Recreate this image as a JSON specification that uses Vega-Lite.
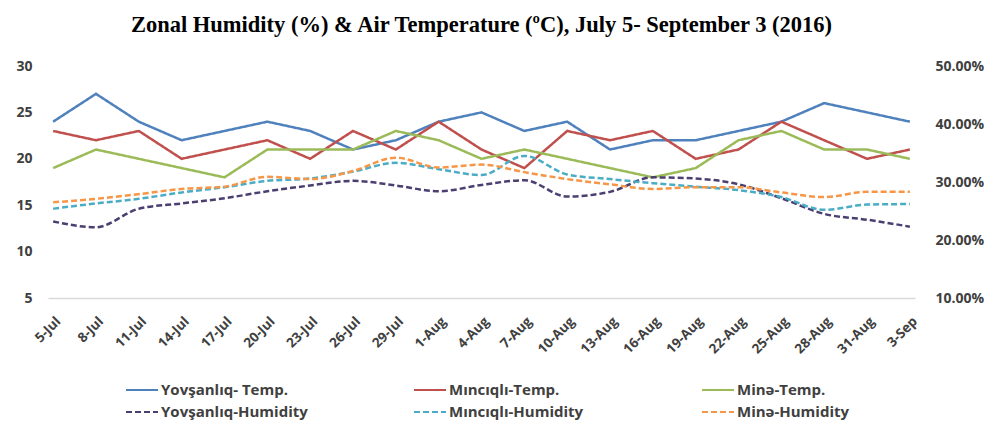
{
  "$schema": "https://vega.github.io/schema/vega-lite/v6.json",
  "autosize": {"type": "none"},
  "width": 867,
  "height": 232,
  "padding": {"left": 48, "top": 66, "right": 80, "bottom": 133},
  "background": "white",
  "title": {
    "text": "Zonal Humidity (%) & Air Temperature (ºC), July 5- September 3 (2016)",
    "font": "Liberation Serif",
    "fontSize": 22.5,
    "fontWeight": "bold",
    "color": "#000000",
    "anchor": "middle",
    "offset": 23
  },
  "config": {
    "view": {"stroke": null},
    "axis": {"labelFont": "Open Sans", "labelFontWeight": "bold", "labelColor": "#404040", "labelFontSize": 14, "ticks": false, "grid": false, "title": null}
  },
  "datasets": {
    "temp": [
      {"date": "5-Jul", "series": "Yovşanlıq- Temp.", "value": 24},
      {"date": "8-Jul", "series": "Yovşanlıq- Temp.", "value": 27},
      {"date": "11-Jul", "series": "Yovşanlıq- Temp.", "value": 24},
      {"date": "14-Jul", "series": "Yovşanlıq- Temp.", "value": 22},
      {"date": "17-Jul", "series": "Yovşanlıq- Temp.", "value": 23},
      {"date": "20-Jul", "series": "Yovşanlıq- Temp.", "value": 24},
      {"date": "23-Jul", "series": "Yovşanlıq- Temp.", "value": 23},
      {"date": "26-Jul", "series": "Yovşanlıq- Temp.", "value": 21},
      {"date": "29-Jul", "series": "Yovşanlıq- Temp.", "value": 22},
      {"date": "1-Aug", "series": "Yovşanlıq- Temp.", "value": 24},
      {"date": "4-Aug", "series": "Yovşanlıq- Temp.", "value": 25},
      {"date": "7-Aug", "series": "Yovşanlıq- Temp.", "value": 23},
      {"date": "10-Aug", "series": "Yovşanlıq- Temp.", "value": 24},
      {"date": "13-Aug", "series": "Yovşanlıq- Temp.", "value": 21},
      {"date": "16-Aug", "series": "Yovşanlıq- Temp.", "value": 22},
      {"date": "19-Aug", "series": "Yovşanlıq- Temp.", "value": 22},
      {"date": "22-Aug", "series": "Yovşanlıq- Temp.", "value": 23},
      {"date": "25-Aug", "series": "Yovşanlıq- Temp.", "value": 24},
      {"date": "28-Aug", "series": "Yovşanlıq- Temp.", "value": 26},
      {"date": "31-Aug", "series": "Yovşanlıq- Temp.", "value": 25},
      {"date": "3-Sep", "series": "Yovşanlıq- Temp.", "value": 24},
      {"date": "5-Jul", "series": "Mıncıqlı-Temp.", "value": 23},
      {"date": "8-Jul", "series": "Mıncıqlı-Temp.", "value": 22},
      {"date": "11-Jul", "series": "Mıncıqlı-Temp.", "value": 23},
      {"date": "14-Jul", "series": "Mıncıqlı-Temp.", "value": 20},
      {"date": "17-Jul", "series": "Mıncıqlı-Temp.", "value": 21},
      {"date": "20-Jul", "series": "Mıncıqlı-Temp.", "value": 22},
      {"date": "23-Jul", "series": "Mıncıqlı-Temp.", "value": 20},
      {"date": "26-Jul", "series": "Mıncıqlı-Temp.", "value": 23},
      {"date": "29-Jul", "series": "Mıncıqlı-Temp.", "value": 21},
      {"date": "1-Aug", "series": "Mıncıqlı-Temp.", "value": 24},
      {"date": "4-Aug", "series": "Mıncıqlı-Temp.", "value": 21},
      {"date": "7-Aug", "series": "Mıncıqlı-Temp.", "value": 19},
      {"date": "10-Aug", "series": "Mıncıqlı-Temp.", "value": 23},
      {"date": "13-Aug", "series": "Mıncıqlı-Temp.", "value": 22},
      {"date": "16-Aug", "series": "Mıncıqlı-Temp.", "value": 23},
      {"date": "19-Aug", "series": "Mıncıqlı-Temp.", "value": 20},
      {"date": "22-Aug", "series": "Mıncıqlı-Temp.", "value": 21},
      {"date": "25-Aug", "series": "Mıncıqlı-Temp.", "value": 24},
      {"date": "28-Aug", "series": "Mıncıqlı-Temp.", "value": 22},
      {"date": "31-Aug", "series": "Mıncıqlı-Temp.", "value": 20},
      {"date": "3-Sep", "series": "Mıncıqlı-Temp.", "value": 21},
      {"date": "5-Jul", "series": "Minə-Temp.", "value": 19},
      {"date": "8-Jul", "series": "Minə-Temp.", "value": 21},
      {"date": "11-Jul", "series": "Minə-Temp.", "value": 20},
      {"date": "14-Jul", "series": "Minə-Temp.", "value": 19},
      {"date": "17-Jul", "series": "Minə-Temp.", "value": 18},
      {"date": "20-Jul", "series": "Minə-Temp.", "value": 21},
      {"date": "23-Jul", "series": "Minə-Temp.", "value": 21},
      {"date": "26-Jul", "series": "Minə-Temp.", "value": 21},
      {"date": "29-Jul", "series": "Minə-Temp.", "value": 23},
      {"date": "1-Aug", "series": "Minə-Temp.", "value": 22},
      {"date": "4-Aug", "series": "Minə-Temp.", "value": 20},
      {"date": "7-Aug", "series": "Minə-Temp.", "value": 21},
      {"date": "10-Aug", "series": "Minə-Temp.", "value": 20},
      {"date": "13-Aug", "series": "Minə-Temp.", "value": 19},
      {"date": "16-Aug", "series": "Minə-Temp.", "value": 18},
      {"date": "19-Aug", "series": "Minə-Temp.", "value": 19},
      {"date": "22-Aug", "series": "Minə-Temp.", "value": 22},
      {"date": "25-Aug", "series": "Minə-Temp.", "value": 23},
      {"date": "28-Aug", "series": "Minə-Temp.", "value": 21},
      {"date": "31-Aug", "series": "Minə-Temp.", "value": 21},
      {"date": "3-Sep", "series": "Minə-Temp.", "value": 20}
    ],
    "hum": [
      {"date": "5-Jul", "series": "Yovşanlıq-Humidity", "value": 0.232},
      {"date": "8-Jul", "series": "Yovşanlıq-Humidity", "value": 0.222},
      {"date": "11-Jul", "series": "Yovşanlıq-Humidity", "value": 0.254},
      {"date": "14-Jul", "series": "Yovşanlıq-Humidity", "value": 0.263},
      {"date": "17-Jul", "series": "Yovşanlıq-Humidity", "value": 0.272},
      {"date": "20-Jul", "series": "Yovşanlıq-Humidity", "value": 0.284},
      {"date": "23-Jul", "series": "Yovşanlıq-Humidity", "value": 0.294},
      {"date": "26-Jul", "series": "Yovşanlıq-Humidity", "value": 0.302},
      {"date": "29-Jul", "series": "Yovşanlıq-Humidity", "value": 0.294},
      {"date": "1-Aug", "series": "Yovşanlıq-Humidity", "value": 0.284},
      {"date": "4-Aug", "series": "Yovşanlıq-Humidity", "value": 0.295},
      {"date": "7-Aug", "series": "Yovşanlıq-Humidity", "value": 0.303},
      {"date": "10-Aug", "series": "Yovşanlıq-Humidity", "value": 0.275},
      {"date": "13-Aug", "series": "Yovşanlıq-Humidity", "value": 0.283},
      {"date": "16-Aug", "series": "Yovşanlıq-Humidity", "value": 0.308},
      {"date": "19-Aug", "series": "Yovşanlıq-Humidity", "value": 0.306},
      {"date": "22-Aug", "series": "Yovşanlıq-Humidity", "value": 0.296},
      {"date": "25-Aug", "series": "Yovşanlıq-Humidity", "value": 0.272},
      {"date": "28-Aug", "series": "Yovşanlıq-Humidity", "value": 0.245},
      {"date": "31-Aug", "series": "Yovşanlıq-Humidity", "value": 0.235},
      {"date": "3-Sep", "series": "Yovşanlıq-Humidity", "value": 0.223},
      {"date": "5-Jul", "series": "Mıncıqlı-Humidity", "value": 0.254},
      {"date": "8-Jul", "series": "Mıncıqlı-Humidity", "value": 0.263},
      {"date": "11-Jul", "series": "Mıncıqlı-Humidity", "value": 0.271},
      {"date": "14-Jul", "series": "Mıncıqlı-Humidity", "value": 0.282},
      {"date": "17-Jul", "series": "Mıncıqlı-Humidity", "value": 0.291},
      {"date": "20-Jul", "series": "Mıncıqlı-Humidity", "value": 0.302},
      {"date": "23-Jul", "series": "Mıncıqlı-Humidity", "value": 0.306},
      {"date": "26-Jul", "series": "Mıncıqlı-Humidity", "value": 0.318},
      {"date": "29-Jul", "series": "Mıncıqlı-Humidity", "value": 0.333},
      {"date": "1-Aug", "series": "Mıncıqlı-Humidity", "value": 0.322},
      {"date": "4-Aug", "series": "Mıncıqlı-Humidity", "value": 0.312},
      {"date": "7-Aug", "series": "Mıncıqlı-Humidity", "value": 0.345},
      {"date": "10-Aug", "series": "Mıncıqlı-Humidity", "value": 0.313},
      {"date": "13-Aug", "series": "Mıncıqlı-Humidity", "value": 0.305},
      {"date": "16-Aug", "series": "Mıncıqlı-Humidity", "value": 0.298},
      {"date": "19-Aug", "series": "Mıncıqlı-Humidity", "value": 0.292},
      {"date": "22-Aug", "series": "Mıncıqlı-Humidity", "value": 0.286},
      {"date": "25-Aug", "series": "Mıncıqlı-Humidity", "value": 0.274},
      {"date": "28-Aug", "series": "Mıncıqlı-Humidity", "value": 0.252},
      {"date": "31-Aug", "series": "Mıncıqlı-Humidity", "value": 0.261},
      {"date": "3-Sep", "series": "Mıncıqlı-Humidity", "value": 0.262},
      {"date": "5-Jul", "series": "Minə-Humidity", "value": 0.265},
      {"date": "8-Jul", "series": "Minə-Humidity", "value": 0.271},
      {"date": "11-Jul", "series": "Minə-Humidity", "value": 0.279},
      {"date": "14-Jul", "series": "Minə-Humidity", "value": 0.288},
      {"date": "17-Jul", "series": "Minə-Humidity", "value": 0.292},
      {"date": "20-Jul", "series": "Minə-Humidity", "value": 0.309},
      {"date": "23-Jul", "series": "Minə-Humidity", "value": 0.305},
      {"date": "26-Jul", "series": "Minə-Humidity", "value": 0.319},
      {"date": "29-Jul", "series": "Minə-Humidity", "value": 0.342},
      {"date": "1-Aug", "series": "Minə-Humidity", "value": 0.325},
      {"date": "4-Aug", "series": "Minə-Humidity", "value": 0.330},
      {"date": "7-Aug", "series": "Minə-Humidity", "value": 0.317},
      {"date": "10-Aug", "series": "Minə-Humidity", "value": 0.305},
      {"date": "13-Aug", "series": "Minə-Humidity", "value": 0.296},
      {"date": "16-Aug", "series": "Minə-Humidity", "value": 0.288},
      {"date": "19-Aug", "series": "Minə-Humidity", "value": 0.291},
      {"date": "22-Aug", "series": "Minə-Humidity", "value": 0.291},
      {"date": "25-Aug", "series": "Minə-Humidity", "value": 0.282},
      {"date": "28-Aug", "series": "Minə-Humidity", "value": 0.274},
      {"date": "31-Aug", "series": "Minə-Humidity", "value": 0.283},
      {"date": "3-Sep", "series": "Minə-Humidity", "value": 0.283}
    ]
  },
  "encoding": {
    "x": {
      "field": "date",
      "type": "ordinal",
      "scale": {"type": "point", "padding": 0.12, "domain": ["5-Jul","8-Jul","11-Jul","14-Jul","17-Jul","20-Jul","23-Jul","26-Jul","29-Jul","1-Aug","4-Aug","7-Aug","10-Aug","13-Aug","16-Aug","19-Aug","22-Aug","25-Aug","28-Aug","31-Aug","3-Sep"]},
      "axis": {"labelAngle": -45, "labelFontSize": 13.5, "domainColor": "#d9d9d9", "domainWidth": 1.5, "labelPadding": 16}
    },
    "color": {
      "field": "series",
      "type": "nominal",
      "scale": {
        "domain": ["Yovşanlıq- Temp.", "Mıncıqlı-Temp.", "Minə-Temp.", "Yovşanlıq-Humidity", "Mıncıqlı-Humidity", "Minə-Humidity"],
        "range": ["#4F81BD", "#C0504D", "#9BBB59", "#4B3F72", "#4BACC6", "#F79646"]
      },
      "legend": {
        "title": null,
        "orient": "none",
        "legendX": 77,
        "legendY": 316,
        "columns": 3,
        "direction": "horizontal",
        "gridAlign": "all",
        "columnPadding": 105,
        "rowPadding": 6,
        "clipHeight": 16,
        "symbolType": "stroke",
        "symbolSize": 1024,
        "symbolStrokeWidth": 2,
        "labelFont": "Open Sans",
        "labelFontSize": 15,
        "labelFontWeight": "bold",
        "labelColor": "#404040",
        "labelOffset": 2
      }
    },
    "strokeDash": {
      "field": "series",
      "type": "nominal",
      "scale": {
        "domain": ["Yovşanlıq- Temp.", "Mıncıqlı-Temp.", "Minə-Temp.", "Yovşanlıq-Humidity", "Mıncıqlı-Humidity", "Minə-Humidity"],
        "range": [[1, 0], [1, 0], [1, 0], [6, 3], [6, 3], [6, 3]]
      }
    }
  },
  "layer": [
    {
      "data": {"name": "temp"},
      "mark": {"type": "line", "strokeWidth": 2.5},
      "encoding": {
        "y": {
          "field": "value",
          "type": "quantitative",
          "scale": {"domain": [5, 30], "nice": false, "zero": false},
          "axis": {"values": [5, 10, 15, 20, 25, 30], "domain": false, "labelPadding": 16, "orient": "left"}
        }
      }
    },
    {
      "data": {"name": "hum"},
      "mark": {"type": "line", "strokeWidth": 2.5, "interpolate": "monotone"},
      "encoding": {
        "y": {
          "field": "value",
          "type": "quantitative",
          "scale": {"domain": [0.1, 0.5], "nice": false, "zero": false},
          "axis": {"values": [0.1, 0.2, 0.3, 0.4, 0.5], "format": ".2%", "domain": false, "labelPadding": 20, "orient": "right"}
        }
      }
    }
  ],
  "resolve": {"scale": {"y": "independent"}}
}
